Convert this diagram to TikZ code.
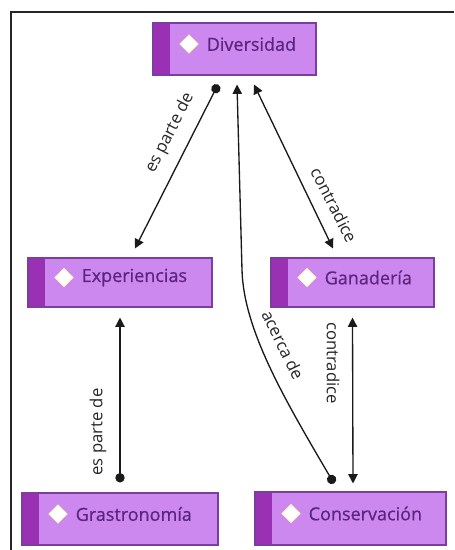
\documentclass[tikz,border=0pt]{standalone}
\usepackage{fontspec}
\setmainfont{Open Sans}
\newfontfamily\conceptfont{Open Sans}[FakeBold=0.6]
\usetikzlibrary{arrows.meta,calc}
\definecolor{boxfill}{HTML}{CC88EE}
\definecolor{boxstrip}{HTML}{9A30B4}
\definecolor{boxedge}{HTML}{7B3E9C}
\definecolor{boxtext}{HTML}{5A2480}
\definecolor{linkc}{HTML}{1A1A1A}
\begin{document}
\begin{tikzpicture}[x=0.75pt,y=-0.75pt,
  concept/.style={draw=boxedge, line width=0.8pt, fill=boxfill, inner sep=0pt,
    path picture={
      \fill[boxstrip] (path picture bounding box.north west) rectangle
        ([xshift=12.75pt]path picture bounding box.south west);
      \coordinate (dm) at ([shift={(36,-5)}]path picture bounding box.west);
      \fill[white, draw=white!75!yellow, line width=0.7pt]
        (dm) ++(-9,0) -- ++(9,-9) -- ++(9,9) -- ++(-9,9) -- cycle;
    }},
  ctext/.style={text=boxtext, anchor=west, inner sep=0pt, xshift=40.5pt, yshift=3.75pt,
    font=\conceptfont\fontsize{13.5}{16}\selectfont},
  link/.style={draw=linkc, line width=1pt},
  dotarrow/.style={link, {Circle[length=7pt]}-{Triangle[length=7pt,width=7pt]}},
  twoarrow/.style={link, {Triangle[length=7pt,width=7pt]}-{Triangle[length=7pt,width=7pt]}},
  linklabel/.style={text=black!85, inner sep=0pt, font=\fontsize{12.5}{15}\selectfont}
]
\useasboundingbox (0,0) rectangle (454,550);
\fill[white] (0,0) rectangle (454,550);
% frame lines along the top and left edges
\draw[line width=1.5pt, black!85] (11,550) |- (454,12);

% concepts
\node[concept, minimum width=163*0.75pt, minimum height=52*0.75pt,
  label={[ctext]west:Diversidad}] (div) at (234.5,49) {};
\node[concept, minimum width=184*0.75pt, minimum height=49*0.75pt,
  label={[ctext]west:Experiencias}] (exp) at (120,282.5) {};
\node[concept, minimum width=163*0.75pt, minimum height=49*0.75pt,
  label={[ctext]west:Ganadería}] (gan) at (352.5,282.5) {};
\node[concept, minimum width=196*0.75pt, minimum height=52*0.75pt,
  label={[ctext]west:Grastronomía}] (gra) at (120,519) {};
\node[concept, minimum width=191*0.75pt, minimum height=53*0.75pt,
  label={[ctext]west:Conservación}] (con) at (350.5,518.5) {};

% links
\draw[dotarrow] ([shift={(-16.5,9)}]div.south) -- ([shift={(15,-9)}]exp.north);
\draw[twoarrow] ([shift={(-19.5,-9)}]gan.north) -- ([shift={(19.5,9)}]div.south);
\draw[dotarrow] ([shift={(-16.5,-8)}]con.north)
  .. controls (285,400) and (243.6,330) .. (242,270) -- ([shift={(2.5,9)}]div.south);
\draw[dotarrow] ([shift={(0,-10)}]gra.north) -- ([shift={(0,10)}]exp.south);
\draw[twoarrow] ([shift={(0,10)}]gan.south) -- ([shift={(2.5,-8)}]con.north);

% link labels
\node[linklabel, rotate=63] (l1) at (170,133) {es parte de};
\node[linklabel, rotate=-63] (l2) at (334,205) {contradice};
\node[linklabel, rotate=-64] (l3) at (283,345) {acerca de};
\node[linklabel, rotate=90] (l4) at (98,432) {es parte de};
\node[linklabel, rotate=-90] (l5) at (333,363) {contradice};
\end{tikzpicture}
\end{document}
